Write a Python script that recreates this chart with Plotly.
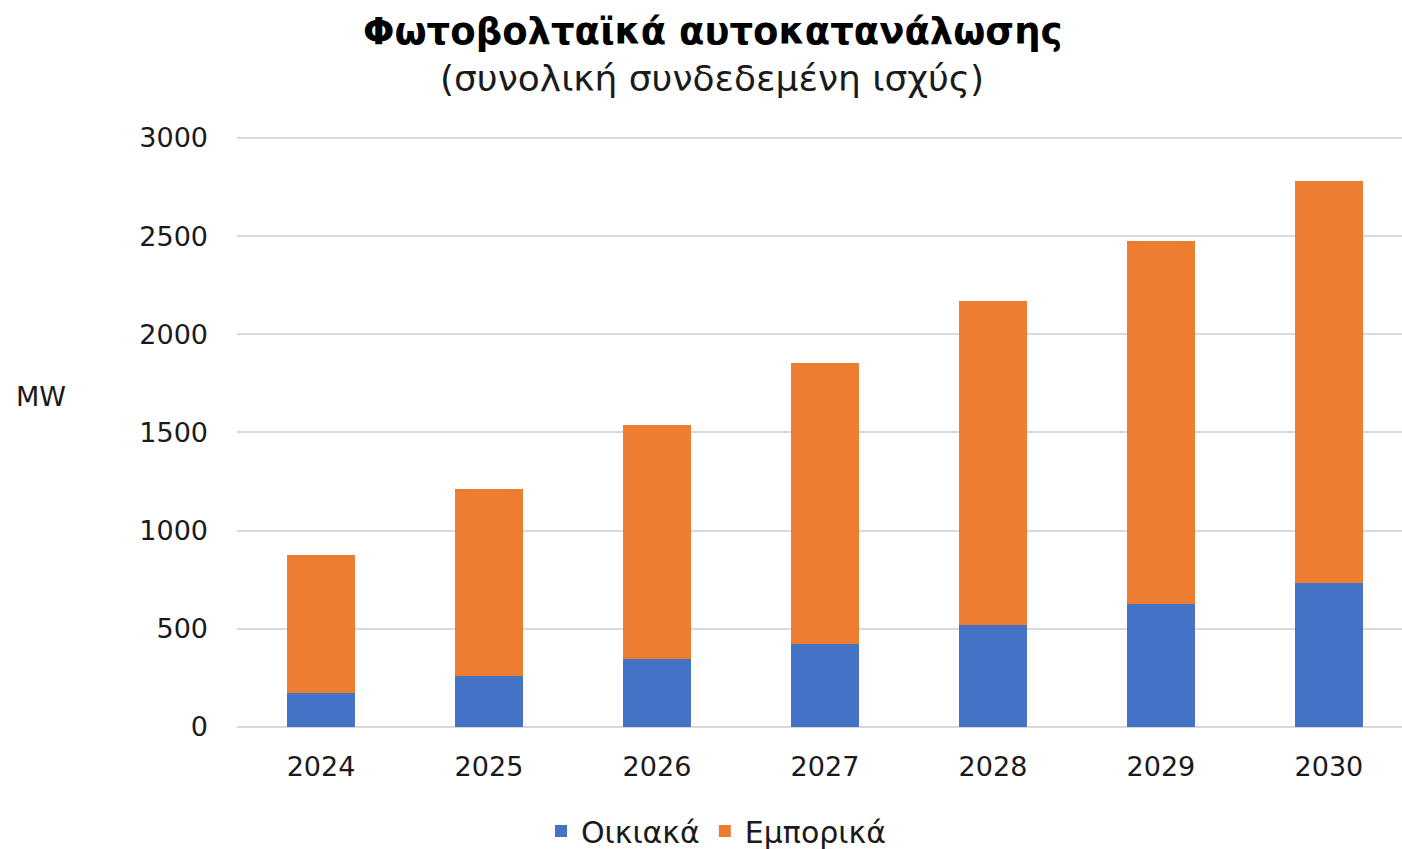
import plotly.graph_objects as go

# Self-consumption PV installed capacity (MW)
years = ["2024", "2025", "2026", "2027", "2028", "2029", "2030"]
residential = [175, 260, 345, 425, 520, 625, 735]
commercial_total = [875, 1210, 1540, 1855, 2170, 2475, 2780]
commercial = [t - r for t, r in zip(commercial_total, residential)]
y_ticks = [0, 500, 1000, 1500, 2000, 2500, 3000]

FONT = "DejaVu Sans"
TXT = "#1a1a1a"
GRID = "#D9D9D9"
W, H = 1402, 849
Y_MAX = 3015
PX_PER_MW = (727.5 - 138) / 3000
PLOT_BOTTOM, PLOT_LEFT = 727.5, 237
PLOT_TOP = PLOT_BOTTOM - Y_MAX * PX_PER_MW
PLOT_H = PLOT_BOTTOM - PLOT_TOP

fig = go.Figure()
fig.add_trace(go.Bar(x=years, y=residential, name="Οικιακά",
                     marker=dict(color="#4472C4", line=dict(width=0)), width=0.4))
fig.add_trace(go.Bar(x=years, y=commercial, name="Εμπορικά",
                     marker=dict(color="#ED7D31", line=dict(width=0)), width=0.4))

fig.update_layout(
    width=W, height=H,
    barmode="stack",
    plot_bgcolor="white", paper_bgcolor="white",
    margin=dict(l=PLOT_LEFT, r=0, t=PLOT_TOP, b=H - PLOT_BOTTOM, autoexpand=False),
    font=dict(family=FONT, color=TXT, size=27),
    showlegend=True,
    legend=dict(orientation="h", xref="container", x=716 / W, xanchor="center",
                yref="container", y=1 - 831 / H, yanchor="middle",
                font=dict(size=30), itemwidth=30, traceorder="normal"),
    xaxis=dict(type="category", range=[-0.5, 6.435], showgrid=False,
               showline=False, ticks="", ticklabelstandoff=21,
               tickfont=dict(size=27), automargin=False),
    yaxis=dict(range=[0, Y_MAX], tickvals=y_ticks, showgrid=True,
               gridcolor=GRID, gridwidth=2, zeroline=True,
               zerolinecolor=GRID, zerolinewidth=2, showline=False,
               ticks="", ticklabelstandoff=28, tickfont=dict(size=27),
               automargin=False),
    annotations=[
        dict(text="<b>Φωτοβολταϊκά αυτοκατανάλωσης</b>", xref="paper", yref="paper",
             x=(712 - PLOT_LEFT) / (W - PLOT_LEFT), y=1 + (PLOT_TOP - 31) / PLOT_H,
             xanchor="center", yanchor="middle", showarrow=False,
             font=dict(size=37, color="#000000")),
        dict(text="(συνολική συνδεδεμένη ισχύς)", xref="paper", yref="paper",
             x=(712 - PLOT_LEFT) / (W - PLOT_LEFT), y=1 + (PLOT_TOP - 79) / PLOT_H,
             xanchor="center", yanchor="middle", showarrow=False,
             font=dict(size=36, color=TXT)),
        dict(text="MW", xref="paper", yref="paper",
             x=-(PLOT_LEFT - 14) / (W - PLOT_LEFT), y=(PLOT_BOTTOM - 397) / PLOT_H,
             xanchor="left", yanchor="middle", showarrow=False,
             font=dict(size=27, color=TXT)),
    ],
)

fig.write_html("out.html")
